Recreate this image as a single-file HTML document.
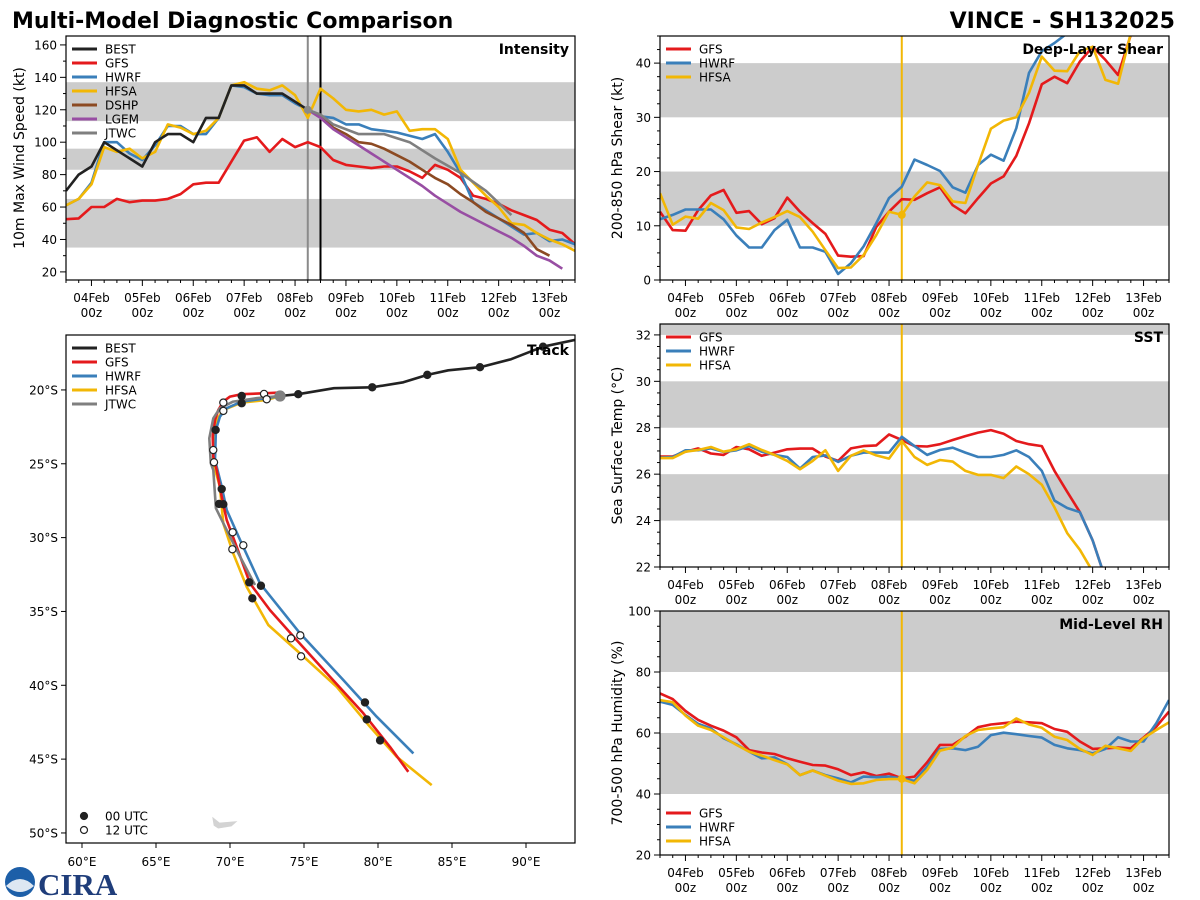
<!DOCTYPE html>
<html><head><meta charset="utf-8"><title>Multi-Model Diagnostic Comparison</title>
<style>
html,body{margin:0;padding:0;background:#fff;}
svg{display:block;font-family:"DejaVu Sans","Liberation Sans",sans-serif;}
</style></head>
<body>
<svg id="fig" width="1200" height="900" viewBox="0 0 1200 900" xmlns="http://www.w3.org/2000/svg">
<text x="12" y="28" font-size="22" font-weight="bold" fill="#000">Multi-Model Diagnostic Comparison</text>
<text x="1175" y="28" font-size="22" font-weight="bold" fill="#000" text-anchor="end">VINCE - SH132025</text>
<g>
<circle cx="20" cy="882" r="15" fill="#1d5fa8"/>
<path d="M6 886 Q20 872 34 886 Q20 898 6 886Z" fill="#fff" opacity="0.85"/>
<text x="38" y="895" font-family="Liberation Serif,serif" font-weight="bold" font-size="31" fill="#1f3d7a">CIRA</text>
</g>
</svg>
<script>
// ---------- DATA ----------
const hours = [-12,-6,0,6,12,18,24,30,36,42,48,54,60,66,72,78,84,90,96,102,108,114,120,126,132,138,144,150,156,162,168,174,180,186,192,198,204,210,216,222,228];
const dayLabels = ["04Feb","05Feb","06Feb","07Feb","08Feb","09Feb","10Feb","11Feb","12Feb","13Feb"];
const fcstStartHour = 102;
const bestIntHours = [-12,-6,0,6,12,18,24,30,36,42,48,54,60,66,72,78,84,90,96,102];
const intBEST = [70,80,85,100,95,90,85,100,105,105,100,115,115,135,135,130,130,130,125,120];
const intGFS = [52.5,53,60,60,65,63,64,64,65,68,74,75,75,88,101,103,94,102,97,100,97,89,86,85,84,85,85,82,78,86,83,78,67,65,62,58,55,52,46,44,37];
const intHWRF = [61,65,75,100,100,93,89,98,110,110,105,105,115,135,134,130,129,129,124,120,116,115,111,111,108,107,106,104,102,105,94,81,63,58,53,48,43,44,39,40,37];
const intHFSA = [61,65,74,97,94,96,90,94,111,109,105,107,115,135,137,133,132,135,129,115,133,127,120,119,120,117,119,107,108,108,102,83,75,67,60,50,49,44,40,37,33];
const dshpHours = [102,108,114,120,126,132,138,144,150,156,162,168,174,180,186,192,198,204,210,216];
const intDSHP = [120,116,109,105,100,99,96,92,88,83,78,74,68,63,57,53,49,44,34,30];
const lgemHours = [102,108,114,120,126,132,138,144,150,156,162,168,174,180,186,192,198,204,210,216,222];
const intLGEM = [120,115,108,103,98,93,88,83,78,73,67,62,57,53,49,45,41,36,30,27,22];
const jtwcHours = [102,108,114,126,138,150,162,174,186,198];
const intJTWC = [120,117,111,105,105,100,90,81,70,55];

const shrGFS = [12.6,9.2,9.1,12.9,15.6,16.6,12.4,12.7,10.3,11.4,15.2,12.6,10.5,8.5,4.5,4.3,4.4,9.8,12.6,14.9,14.8,16,17.1,13.8,12.3,15.1,17.8,19.1,22.9,28.9,36.1,37.5,36.3,40.3,43,40.6,37.8,45.2,50,52,54];
const shrHWRF = [11.2,12,13,13,13,11.2,8.2,6,6,9.2,11.1,6,6,5.2,1.1,3.1,6.2,10.5,15.1,17.2,22.2,21.2,20.1,17.1,16.1,21.2,23.1,22,28,38.2,42.2,43.7,45.5,47,48,50,51,52,53,54,55];
const shrHFSA = [16,10.2,11.7,11.3,14.2,12.9,9.7,9.4,10.6,11.6,12.7,11.6,8.9,5.5,2.2,2.3,4.6,8.3,12.6,12,15.4,18,17.5,14.5,14.2,21.2,27.9,29.4,30,34.5,41.2,38.6,38.5,42.2,43,36.9,36.2,45.5,50,52,54];

const sstGFS = [26.76,26.76,26.97,27.11,26.89,26.83,27.17,27.07,26.79,26.93,27.07,27.1,27.1,26.76,26.57,27.11,27.21,27.24,27.71,27.47,27.21,27.19,27.29,27.47,27.64,27.79,27.9,27.74,27.43,27.29,27.21,26.14,25.24,24.36,23.14,21.5];
const sstHWRF = [26.71,26.74,27.03,27.03,27.11,26.96,27.03,27.21,26.97,26.83,26.74,26.24,26.74,26.81,26.53,26.79,26.93,26.93,26.93,27.61,27.21,26.83,27.04,27.14,26.93,26.74,26.74,26.83,27.03,26.74,26.14,24.86,24.54,24.36,23.14,21.5];
const sstHFSA = [26.69,26.69,26.97,27.04,27.17,26.97,27.07,27.29,27.04,26.83,26.57,26.21,26.57,27.03,26.14,26.79,27.03,26.81,26.67,27.43,26.74,26.4,26.61,26.54,26.14,25.97,25.97,25.83,26.33,26,25.54,24.57,23.46,22.74,21.8];

const rhGFS = [73,71.1,67.2,64.3,62.4,60.8,58.6,54.4,53.6,53.1,51.7,50.6,49.5,49.3,48.1,46.2,47.1,45.9,46.7,45.1,45.7,50.4,56.1,56.1,58.8,61.9,62.8,63.2,63.7,63.5,63.2,61.3,60.4,57.2,54.8,55,55.2,55,58.5,62.1,67];
const rhHWRF = [70.3,69.2,65.9,63,61.5,58.3,56.3,53.9,51.7,52,49.8,46.2,47.7,46.2,45.1,43.8,45.7,45.5,45.7,45.1,44.3,49,54.8,55,54.4,55.5,59.3,60.1,59.6,59,58.5,56.1,55,54.4,53.3,54.8,58.6,57.2,57.2,63.2,70.8];
const rhHFSA = [70.8,70.1,65.7,62.4,61,58.6,56.1,53.9,52.6,51.1,49.7,46.2,47.7,46,44.4,43.3,43.5,44.6,44.9,44.9,43.5,47.9,54.2,55.2,59,61,61.5,61.9,64.8,62.8,61.7,58.8,57.7,54.8,52.8,55.8,55,54.1,58.3,61,63.5];

// Track (lon E, lat)
const trkBESTLon = [93.31,91.15,88.99,86.89,84.75,83.33,81.71,79.61,77.03,74.61,73.38];
const trkBESTLat = [-16.61,-17.07,-17.92,-18.46,-18.67,-18.98,-19.48,-19.82,-19.88,-20.29,-20.41];
const trkBESTDot = [0,1,0,1,0,1,0,1,0,1,2];
const trkGFSLon = [73.38,72.48,70.79,70.0,69.55,69.21,68.99,68.83,68.87,69.10,69.44,69.78,70.45,71.35,72.70,74.51,76.76,79.01,80.81,82.05];
const trkGFSLat = [-20.18,-20.22,-20.29,-20.45,-20.79,-21.36,-22.03,-23.16,-24.52,-25.42,-27.23,-28.81,-30.62,-33.10,-34.91,-36.94,-39.42,-41.90,-44.17,-45.86];
const trkHWRFLon = [73.38,72.48,70.79,69.78,69.32,69.05,68.99,69.44,69.78,70.68,72.03,74.73,77.66,79.91,82.39];
const trkHWRFLat = [-20.41,-20.56,-20.79,-21.24,-21.81,-22.71,-24.74,-26.55,-28.13,-30.16,-33.10,-36.48,-39.65,-42.13,-44.61];
const trkHFSALon = [73.38,72.48,70.79,69.55,69.10,68.87,68.87,69.32,69.55,70.22,71.13,72.59,74.73,77.21,79.46,81.26,83.63];
const trkHFSALat = [-20.41,-20.68,-20.86,-21.36,-22.03,-23.39,-24.97,-26.55,-29.03,-31.06,-33.33,-35.92,-37.84,-40.10,-42.81,-44.84,-46.76];
const trkJTWCLon = [73.38,71.80,70.22,69.32,68.87,68.60,68.70,68.87,69.05,69.78,70.68,71.69];
const trkJTWCLat = [-20.41,-20.56,-20.79,-21.24,-21.92,-23.27,-24.97,-25.42,-28.01,-29.49,-31.29,-33.21];
const fcDotLon = [70.79,70.79,72.30,72.48,69.55,69.55,69.03,68.87,68.92,69.44,69.55,69.26,70.18,70.90,70.16,71.30,72.09,71.51,74.12,74.75,74.80,79.12,79.24,80.14];
const fcDotLat = [-20.41,-20.90,-20.27,-20.63,-20.86,-21.42,-22.71,-24.07,-24.90,-26.71,-27.74,-27.72,-29.64,-30.52,-30.79,-33.03,-33.26,-34.11,-36.82,-36.62,-38.04,-41.16,-42.31,-43.73];
const fcDotFilled = [1,1,0,0,0,0,1,0,0,1,1,1,0,0,0,1,1,1,0,0,0,1,1,1];
const lonTicks = [60,65,70,75,80,85,90];
const latTicks = [-20,-25,-30,-35,-40,-45,-50];

// ---------- RENDER ----------
const NS = "http://www.w3.org/2000/svg";
const svg = document.getElementById("fig");
const C = {BEST:"#222222",GFS:"#e41a1c",HWRF:"#3a7fba",HFSA:"#f2b705",DSHP:"#8c4a22",LGEM:"#984ea3",JTWC:"#7f7f7f"};
function mk(tag, parent){ const e=document.createElementNS(NS,tag); (parent||svg).appendChild(e); return e; }
function at(e, o){ for(const k in o) e.setAttribute(k,o[k]); return e; }

function panel(opt){
  const g = mk("g");
  
  
  const {x0,y0,w,h,ymin,ymax} = opt;
  const ys = v => y0 + h - (v - ymin)/(ymax - ymin)*h;
  const xs = t => x0 + (t + 12)/240*w;
  const cid = opt.name + "-clip";
  const cp = mk("clipPath", g); cp.setAttribute("id", cid);
  at(mk("rect", cp), {x:x0,y:y0,width:w,height:h});
  opt.bands.forEach(b=>{
    const r = mk("rect", g);
    
    
    const top = Math.max(y0, ys(b[1])), bot = Math.min(y0+h, ys(b[0]));
    at(r,{x:x0,y:top,width:w,height:bot-top,fill:"#cccccc"});
  });
  const plot = mk("g", g); plot.setAttribute("clip-path", "url(#"+cid+")");
  for(let t=-12;t<=228;t+=6){
    const major = ((t % 24)+24)%24===0;
    const tk = mk("line", g);
    at(tk,{x1:xs(t),x2:xs(t),y1:y0+h,y2:y0+h+(major?6:3),stroke:"#000","stroke-width":1});
  }
  dayLabels.forEach((d,i)=>{
    const x = xs(i*24);
    const l1 = mk("text", g);
    
    
    at(l1,{x:x,y:y0+h+22,"font-size":12,"text-anchor":"middle"}); l1.textContent=d;
    const l2 = mk("text", g);
    
    
    at(l2,{x:x,y:y0+h+37,"font-size":12,"text-anchor":"middle"}); l2.textContent="00z";
  });
  for(let v=Math.ceil(ymin/opt.minor)*opt.minor; v<=ymax+1e-9; v+=opt.minor){
    const isMaj = Math.abs(v/opt.major - Math.round(v/opt.major))<1e-6;
    const tk = mk("line", g);
    at(tk,{x1:x0-(isMaj?6:3),x2:x0,y1:ys(v),y2:ys(v),stroke:"#000","stroke-width":1});
    if(isMaj){
      const l = mk("text", g);
      
      
      at(l,{x:x0-9,y:ys(v)+4.5,"font-size":12,"text-anchor":"end"}); l.textContent=String(Math.round(v));
    }
  }
  const yt = mk("text", g);
  
  
  at(yt,{x:0,y:0,"font-size":14,"text-anchor":"middle",transform:`translate(${opt.ytx},${y0+h/2}) rotate(-90)`});
  yt.textContent = opt.ytitle;
  (opt.vlines||[]).forEach(v=>{
    const l = mk("line", plot);
    
    
    at(l,{x1:xs(v.t),x2:xs(v.t),y1:y0,y2:y0+h,stroke:v.c,"stroke-width":2});
  });
  opt.series.forEach(s=>{
    const p = mk("polyline", plot);
    
    
    const pts = s.v.map((v,i)=>xs(s.t[i]).toFixed(1)+","+ys(v).toFixed(1)).join(" ");
    at(p,{points:pts,fill:"none",stroke:C[s.n],"stroke-width":2.6,"stroke-linejoin":"round"});
  });
  if(opt.dot){
    const d = mk("circle", plot);
    
    
    at(d,{cx:xs(opt.dot.t),cy:ys(opt.dot.v),r:4,fill:opt.dot.c});
  }
  at(mk("rect", g),{x:x0,y:y0,width:w,height:h,fill:"none",stroke:"#000","stroke-width":1.2});
  const lb = mk("text", g);
  
  
  at(lb,{x:x0+w-6,y:y0+18,"font-size":14,"font-weight":"bold","text-anchor":"end"}); lb.textContent=opt.label;
  legend(g, x0, opt.legY, opt.legend);
}
function legend(g, x0, yStart, names){
  names.forEach((n,i)=>{
    const y = yStart + i*14;
    const ln = mk("line", g);
    
    
    at(ln,{x1:x0+6,x2:x0+31,y1:y,y2:y,stroke:C[n],"stroke-width":3});
    const t = mk("text", g);
    
    
    at(t,{x:x0+39,y:y+4.5,"font-size":12}); t.textContent=n;
  });
}

panel({name:"intensity-panel",x0:66,y0:36,w:509,h:244,ymin:15,ymax:165.5,major:20,minor:10,
  bands:[[35,65],[83,96],[113,137]],ytx:24,ytitle:"10m Max Wind Speed (kt)",label:"Intensity",
  vlines:[{t:102,c:"#8a8a8a"},{t:108,c:"#000"}],
  series:[{n:"GFS",t:hours,v:intGFS},{n:"HWRF",t:hours,v:intHWRF},{n:"HFSA",t:hours,v:intHFSA},
    {n:"DSHP",t:dshpHours,v:intDSHP},{n:"LGEM",t:lgemHours,v:intLGEM},{n:"JTWC",t:jtwcHours,v:intJTWC},
    {n:"BEST",t:bestIntHours,v:intBEST}],
  dot:{t:102,v:120,c:"#8a8a8a"},legY:49,legend:["BEST","GFS","HWRF","HFSA","DSHP","LGEM","JTWC"]});
panel({name:"shear-panel",x0:660,y0:36,w:509,h:244,ymin:0,ymax:45,major:10,minor:2.5,
  bands:[[10,20],[30,40]],ytx:622,ytitle:"200-850 hPa Shear (kt)",label:"Deep-Layer Shear",
  vlines:[{t:102,c:C.HFSA}],
  series:[{n:"GFS",t:hours,v:shrGFS},{n:"HWRF",t:hours,v:shrHWRF},{n:"HFSA",t:hours,v:shrHFSA}],
  dot:{t:102,v:12,c:C.HFSA},legY:49,legend:["GFS","HWRF","HFSA"]});
panel({name:"sst-panel",x0:660,y0:324,w:509,h:243,ymin:22,ymax:32.47,major:2,minor:0.5,
  bands:[[24,26],[28,30],[32,33]],ytx:622,ytitle:"Sea Surface Temp (°C)",label:"SST",
  vlines:[{t:102,c:C.HFSA}],
  series:[{n:"GFS",t:hours,v:sstGFS},{n:"HWRF",t:hours,v:sstHWRF},{n:"HFSA",t:hours,v:sstHFSA}],
  legY:337,legend:["GFS","HWRF","HFSA"]});
panel({name:"rh-panel",x0:660,y0:611,w:509,h:244,ymin:20,ymax:100,major:20,minor:5,
  bands:[[40,60],[80,100]],ytx:622,ytitle:"700-500 hPa Humidity (%)",label:"Mid-Level RH",
  vlines:[{t:102,c:C.HFSA}],
  series:[{n:"GFS",t:hours,v:rhGFS},{n:"HWRF",t:hours,v:rhHWRF},{n:"HFSA",t:hours,v:rhHFSA}],
  dot:{t:102,v:45,c:C.HFSA},legY:813,legend:["GFS","HWRF","HFSA"]});

// ---------- TRACK ----------
(function(){
  const x0=66,y0=335,w=509,h=508;
  const lonMin=58.92, lonMax=93.31, latMin=-50.68, latMax=-16.28;
  const xs = lon => x0 + (lon-lonMin)/(lonMax-lonMin)*w;
  const ys = lat => y0 + (latMax-lat)/(latMax-latMin)*h;
  const g = mk("g");
  
  
  const cp = mk("clipPath", g); cp.setAttribute("id","track-clip");
  at(mk("rect", cp),{x:x0,y:y0,width:w,height:h});
  const plot = mk("g", g); plot.setAttribute("clip-path","url(#track-clip)");
  const isl = mk("path", plot);
  
  
  at(isl,{d:`M${xs(68.8)},${ys(-48.9)} L${xs(69.3)},${ys(-49.3)} L${xs(70.5)},${ys(-49.2)} L${xs(70.1)},${ys(-49.55)} L${xs(69.2)},${ys(-49.7)} L${xs(68.9)},${ys(-49.5)}Z`,fill:"#d3d3d3"});
  lonTicks.forEach(l=>{
    at(mk("line",g),{x1:xs(l),x2:xs(l),y1:y0+h,y2:y0+h+5,stroke:"#000"});
    const t = mk("text", g);
    
    
    at(t,{x:xs(l),y:y0+h+23,"font-size":12,"text-anchor":"middle"}); t.textContent=l+"°E";
  });
  latTicks.forEach(l=>{
    at(mk("line",g),{x1:x0-5,x2:x0,y1:ys(l),y2:ys(l),stroke:"#000"});
    const t = mk("text", g);
    
    
    at(t,{x:x0-8,y:ys(l)+4.5,"font-size":12,"text-anchor":"end"}); t.textContent=(-l)+"°S";
  });
  const tracks = [["HFSA",trkHFSALon,trkHFSALat],["HWRF",trkHWRFLon,trkHWRFLat],["GFS",trkGFSLon,trkGFSLat],["JTWC",trkJTWCLon,trkJTWCLat],["BEST",trkBESTLon,trkBESTLat]];
  tracks.forEach(tr=>{
    const p = mk("polyline", plot);
    
    
    at(p,{points:tr[1].map((lo,i)=>xs(lo).toFixed(1)+","+ys(tr[2][i]).toFixed(1)).join(" "),fill:"none",stroke:C[tr[0]],"stroke-width":2.6,"stroke-linejoin":"round"});
  });
  fcDotLon.forEach((lo,i)=>{
    const c = mk("circle", plot);
    
    
    at(c,{cx:xs(lo),cy:ys(fcDotLat[i]),r:3.6,fill:fcDotFilled[i]?"#222":"#fff",stroke:"#222","stroke-width":1.2});
  });
  trkBESTLon.forEach((lo,i)=>{
    if(!trkBESTDot[i]) return;
    const c = mk("circle", plot);
    
    
    const k = trkBESTDot[i];
    at(c,{cx:xs(lo),cy:ys(trkBESTLat[i]),r:k===2?5:3.6,fill:k===2?"#808080":(i%2? "#222":"#fff"),stroke:k===2?"#808080":"#222","stroke-width":1.2});
  });
  at(mk("rect", g),{x:x0,y:y0,width:w,height:h,fill:"none",stroke:"#000","stroke-width":1.2});
  const lb = mk("text", g);
  
  
  at(lb,{x:x0+w-6,y:y0+20,"font-size":14,"font-weight":"bold","text-anchor":"end"}); lb.textContent="Track";
  legend(g, x0, 348, ["BEST","GFS","HWRF","HFSA","JTWC"]);
  [["00 UTC",1],["12 UTC",0]].forEach((e,i)=>{
    const y = 816 + i*14;
    const c = mk("circle", g);
    
    
    at(c,{cx:x0+18,cy:y,r:3.5,fill:e[1]?"#222":"#fff",stroke:"#222","stroke-width":1.2});
    const t = mk("text", g);
    
    
    at(t,{x:x0+39,y:y+4.5,"font-size":12}); t.textContent=e[0];
  });
})();
</script>
</body></html>
